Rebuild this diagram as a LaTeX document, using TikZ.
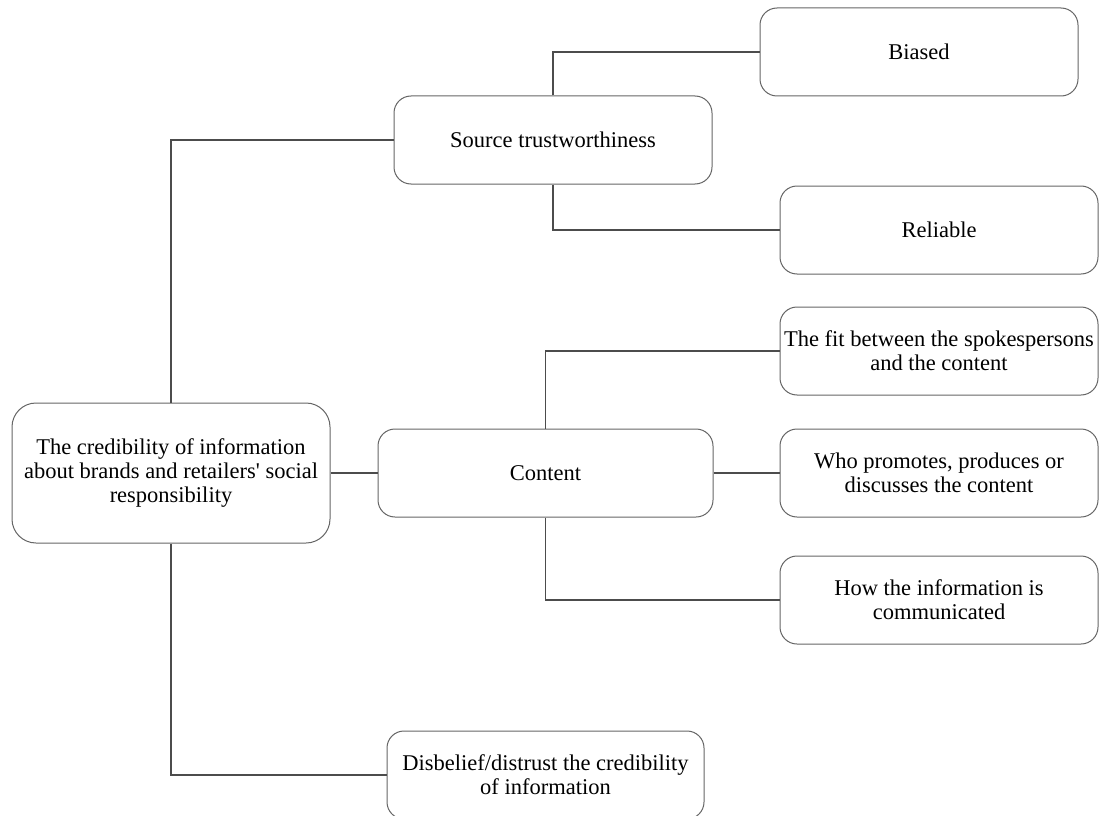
\documentclass[tikz,border=0pt]{standalone}
\usepackage{fontspec}
\setmainfont{Liberation Serif}
% same face loaded without the TeX quote mapping, for a straight apostrophe
\font\straightq="Liberation Serif" at 22.5pt
\begin{document}
\begin{tikzpicture}[x=1pt,y=-1pt,
  box/.style={draw=black!60, line width=1pt, rounded corners=17pt, fill=white,
    align=center, inner sep=2pt, font=\fontsize{22.5}{24}\selectfont,
    minimum width=318pt, minimum height=88pt},
  link/.style={draw=black!70, line width=1.4pt}]
\useasboundingbox[fill=white] (0,0) rectangle (1101,816);
\node[box, minimum height=140pt, rounded corners=24pt] (root) at (171,473)
  {The credibility of information\\about brands and retailers{\straightq'} social\\responsibility};
\node[box] (src) at (553,140) {Source trustworthiness};
\node[box] (biased) at (919,52) {Biased};
\node[box] (reliable) at (939,230) {Reliable};
\node[box, minimum width=335pt] (content) at (545.5,473) {Content};
\node[box] (fit) at (939,351) {The fit between the spokespersons\\and the content};
\node[box] (who) at (939,473) {Who promotes, produces or\\discusses the content};
\node[box] (how) at (939,600) {How the information is\\communicated};
\node[box, minimum width=317pt] (dis) at (545.5,775) {Disbelief/distrust the credibility\\of information};
\path[link] (root.north) |- (src.west);
\path[link] (root.east) -- (content.west);
\path[link] (root.south) |- (dis.west);
\path[link] (src.north) |- (biased.west);
\path[link] (src.south) |- (reliable.west);
\path[link] (content.north) |- (fit.west);
\path[link] (content.east) -- (who.west);
\path[link] (content.south) |- (how.west);
\end{tikzpicture}
\end{document}
